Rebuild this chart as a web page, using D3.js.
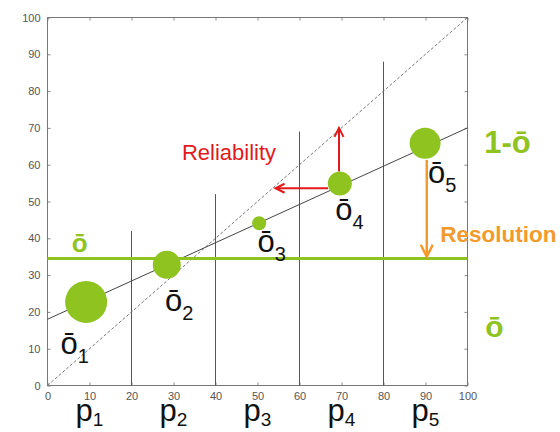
<!DOCTYPE html>
<html><head><meta charset="utf-8">
<script src="https://cdn.jsdelivr.net/npm/d3@7"></script>
<style>body{margin:0;background:#fff} svg{display:block}</style>
</head><body><svg id="c" width="560" height="432"></svg>
<script>
// ---- data ----
const forecastProb = [9.2, 28.4, 50.4, 69.6, 89.9];
const observedFreq = [22.7, 32.8, 44.1, 54.9, 65.8];
const binCounts = [441, 196, 49, 144, 240];
const binEdges = [20, 40, 60, 80];
const binLineTops = [42, 52, 69, 88];
const binCenters = [10, 30, 50, 70, 90];
const binLabels = ["1", "2", "3", "4", "5"];
const climatology = 34.5;
const regressionLine = [[0, 18], [100, 70]];
const diagonalLine = [[0, 0], [100, 100]];
const tickValues = [0, 10, 20, 30, 40, 50, 60, 70, 80, 90, 100];
const reliabilityArrows = [[[66.8, 53.6], [54.3, 53.6]], [[69.4, 58.2], [69.4, 70]]];
const resolutionArrow = [[90.3, 61.3], [90.3, 35]];
// label anchors (left/baseline) in data units
const obsLabelX = [3.1, 28.0, 50.0, 68.5, 90.6];
const obsLabelY = [8.5, 20.2, 36.4, 45.0, 54.9];

// ---- layout ----
const svg = d3.select("#c");
const x = d3.scaleLinear().domain([0, 100]).range([47.5, 467.5]);
const y = d3.scaleLinear().domain([0, 100]).range([385.5, 17.5]);
const r = d3.scaleSqrt().domain([0, d3.max(binCounts)]).range([0, 21]);
const FONT = "'Liberation Sans', Arial, sans-serif";
const GREEN = "#8fc31f", RED = "#e3191b", ORANGE = "#f39a2c";
const line = d3.line().x(d => x(d[0])).y(d => y(d[1]));

// axes: inward ticks on all four sides
const g = svg.append("g");
const axL = g.append("g").attr("transform", `translate(${x(0)},0)`)
  .call(d3.axisLeft(y).tickValues(tickValues).tickSize(0).tickPadding(7));
const axB = g.append("g").attr("transform", `translate(0,${y(0)})`)
  .call(d3.axisBottom(x).tickValues(tickValues).tickSize(0).tickPadding(7));
[axL, axB].forEach(a => {
  a.select(".domain").remove();
  a.selectAll("text").attr("font-family", FONT).attr("font-size", 11).attr("fill", "#555");
});
g.append("g").attr("transform", `translate(0,${y(100)})`)
  .call(d3.axisBottom(x).tickValues(tickValues).tickSize(3).tickFormat(""))
  .call(s => s.select(".domain").remove()).selectAll("line").attr("stroke", "#888");
g.append("g").attr("transform", `translate(${x(100)},0)`)
  .call(d3.axisLeft(y).tickValues(tickValues).tickSize(3).tickFormat(""))
  .call(s => s.select(".domain").remove()).selectAll("line").attr("stroke", "#888");
g.append("g").attr("transform", `translate(0,${y(0)})`)
  .call(d3.axisTop(x).tickValues(tickValues).tickSize(3).tickFormat(""))
  .call(s => s.select(".domain").remove()).selectAll("line").attr("stroke", "#888");
g.append("g").attr("transform", `translate(${x(0)},0)`)
  .call(d3.axisRight(y).tickValues(tickValues).tickSize(3).tickFormat(""))
  .call(s => s.select(".domain").remove()).selectAll("line").attr("stroke", "#888");
g.append("rect").attr("x", x(0)).attr("y", y(100))
  .attr("width", x(100) - x(0)).attr("height", y(0) - y(100))
  .attr("fill", "none").attr("stroke", "#777").attr("stroke-width", 1);

// bin separator lines
svg.selectAll("line.bin").data(binEdges).join("line").attr("class", "bin")
  .attr("x1", d => x(d)).attr("x2", d => x(d))
  .attr("y1", y(0)).attr("y2", (d, i) => y(binLineTops[i]))
  .attr("stroke", "#555").attr("stroke-width", 1);

// diagonal & regression
svg.append("path").attr("d", line(diagonalLine)).attr("fill", "none")
  .attr("stroke", "#777").attr("stroke-width", 1).attr("stroke-dasharray", "3,2");
svg.append("path").attr("d", line(regressionLine)).attr("fill", "none")
  .attr("stroke", "#444").attr("stroke-width", 1);

// climatology line
svg.append("line").attr("x1", x(0)).attr("x2", x(100))
  .attr("y1", y(climatology)).attr("y2", y(climatology))
  .attr("stroke", GREEN).attr("stroke-width", 3);

// circles
svg.selectAll("circle.pt").data(forecastProb).join("circle").attr("class", "pt")
  .attr("cx", d => x(d)).attr("cy", (d, i) => y(observedFreq[i]))
  .attr("r", (d, i) => r(binCounts[i])).attr("fill", GREEN);

// arrows
function arrow(pts, color, w, L, H) {
  const [a, b] = pts;
  const x1 = x(a[0]), y1 = y(a[1]), x2 = x(b[0]), y2 = y(b[1]);
  const ang = Math.atan2(y2 - y1, x2 - x1);
  const ux = Math.cos(ang), uy = Math.sin(ang);
  svg.append("line").attr("x1", x1).attr("y1", y1).attr("x2", x2).attr("y2", y2)
    .attr("stroke", color).attr("stroke-width", w);
  const p1 = [x2 - ux * L - uy * H, y2 - uy * L + ux * H];
  const p2 = [x2 - ux * L + uy * H, y2 - uy * L - ux * H];
  svg.append("path").attr("d", `M${p1}L${x2},${y2}L${p2}`).attr("fill", "none")
    .attr("stroke", color).attr("stroke-width", w).attr("stroke-linejoin", "miter");
}
reliabilityArrows.forEach(a => arrow(a, RED, 2, 9, 4.5));
arrow(resolutionArrow, ORANGE, 2.5, 12, 6);

// observed-frequency labels
const ol = svg.selectAll("text.ol").data(binLabels).join("text").attr("class", "ol")
  .attr("x", (d, i) => x(obsLabelX[i])).attr("y", (d, i) => y(obsLabelY[i]))
  .attr("font-family", FONT).attr("font-size", 31).attr("fill", "#111");
ol.append("tspan").text("ō");
ol.append("tspan").attr("font-size", 20).attr("dy", 9).text(d => d);

// probability bin labels
const pl = svg.selectAll("text.pl").data(binLabels).join("text").attr("class", "pl")
  .attr("x", (d, i) => x(binCenters[i])).attr("y", 421).attr("text-anchor", "middle")
  .attr("font-family", FONT).attr("font-size", 31).attr("fill", "#111");
pl.append("tspan").text("p");
pl.append("tspan").attr("font-size", 19).attr("dy", 5).text(d => d);

// annotations
svg.append("text").attr("x", x(32.0)).attr("y", y(61.4)).text("Reliability")
  .attr("font-family", FONT).attr("font-size", 22).attr("fill", RED);
svg.append("text").attr("x", x(93.5)).attr("y", y(39.1)).text("Resolution")
  .attr("font-family", FONT).attr("font-size", 22.5).attr("font-weight", "bold").attr("fill", ORANGE);
svg.append("text").attr("x", x(104.0)).attr("y", y(63.1)).text("1-ō")
  .attr("font-family", FONT).attr("font-size", 31).attr("font-weight", "bold").attr("fill", GREEN);
svg.append("text").attr("x", x(104.2)).attr("y", y(13.3)).text("ō")
  .attr("font-family", FONT).attr("font-size", 30).attr("font-weight", "bold").attr("fill", GREEN);
svg.append("text").attr("x", x(5.8)).attr("y", y(36.4)).text("ō")
  .attr("font-family", FONT).attr("font-size", 26).attr("font-weight", "bold").attr("fill", GREEN);
</script></body></html>
